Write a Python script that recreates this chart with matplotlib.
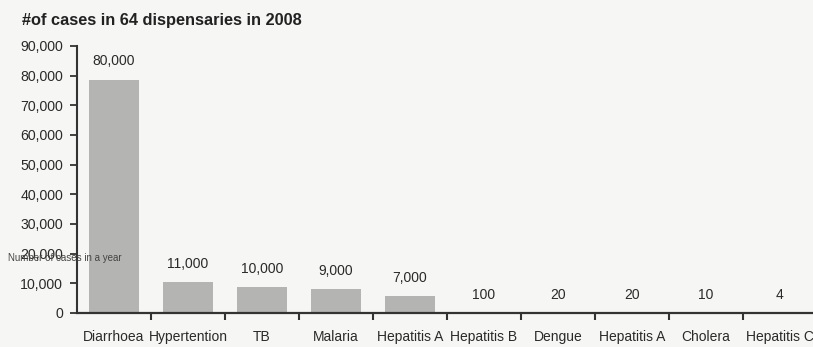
import matplotlib
matplotlib.use("Agg")
import matplotlib.pyplot as plt
import numpy as np

categories = ["Diarrhoea", "Hypertention", "TB", "Malaria", "Hepatitis A",
              "Hepatitis B", "Dengue", "Hepatitis A", "Cholera", "Hepatitis C"]
bar_values = [78700, 10300, 8700, 8000, 5800, 100, 20, 20, 10, 4]
value_labels = ["80,000", "11,000", "10,000", "9,000", "7,000",
                "100", "20", "20", "10", "4"]
y_ticks = [0, 10000, 20000, 30000, 40000, 50000, 60000, 70000, 80000, 90000]
y_tick_labels = ["0", "10,000", "20,000", "30,000", "40,000", "50,000",
                 "60,000", "70,000", "80,000", "90,000"]

plt.rcParams['font.family'] = ['Liberation Sans', 'DejaVu Sans']

bg = "#f6f6f4"
fig = plt.figure(figsize=(8.13, 3.47), dpi=100, facecolor=bg)
ax = fig.add_axes([0.0947, 0.098, 0.910, 0.7695])
ax.set_facecolor(bg)

x = np.arange(len(categories))
ax.bar(x, bar_values, width=0.68, color="#b4b4b2", edgecolor="none")

for xi, v, lab in zip(x, bar_values, value_labels):
    ax.annotate(lab, (xi, v), xytext=(0, 8), textcoords="offset points",
                ha="center", va="bottom", fontsize=10, color="#2a2a2a")

ax.set_xlim(-0.5, 9.5)
ax.set_ylim(0, 90000)
ax.set_yticks(y_ticks)
ax.set_yticklabels(y_tick_labels, fontsize=10.2, color="#2a2a2a")
ax.set_xticks(x)
ax.set_xticklabels(categories, fontsize=10, color="#2a2a2a")
ax.tick_params(axis="x", length=0, pad=12)
ax.set_xticks(np.arange(0.5, 10, 1), minor=True)
ax.tick_params(axis="x", which="minor", length=5, width=1.5, color="#333333", direction="out")
ax.tick_params(axis="y", length=5, width=1.3, color="#333333", direction="out", pad=5)

for s in ["top", "right"]:
    ax.spines[s].set_visible(False)
ax.spines["left"].set_linewidth(1.5)
ax.spines["left"].set_color("#333333")
ax.spines["bottom"].set_linewidth(1.6)
ax.spines["bottom"].set_color("#333333")

fig.text(22 / 813, 1 - 20 / 347, "#of cases in 64 dispensaries in 2008",
         fontsize=11.8, fontweight="bold", color="#222222", ha="left", va="center")
fig.text(8 / 813, 1 - 258 / 347, "Number of cases in a year",
         fontsize=7, color="#444444", ha="left", va="center")

fig.savefig("out.png", dpi=100, facecolor=bg)
